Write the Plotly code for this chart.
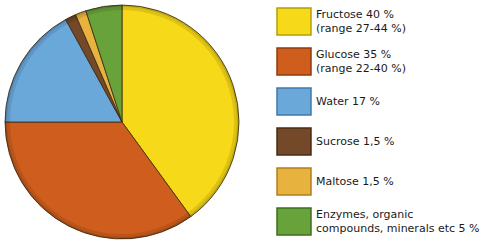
import plotly.graph_objects as go

W, H = 500, 243

labels = ["Fructose", "Glucose", "Water", "Sucrose", "Maltose", "Enzymes"]
values = [40, 35, 17, 1.5, 1.5, 5]
legend_texts = [
    "Fructose 40 %<br>(range 27-44 %)",
    "Glucose 35 %<br>(range 22-40 %)",
    "Water 17 %",
    "Sucrose 1,5 %",
    "Maltose 1,5 %",
    "Enzymes, organic<br>compounds, minerals etc 5 %",
]
colors = ["#F6D918", "#CF5E1E", "#6AA8DA", "#74492A", "#E8B23F", "#68A23A"]
edge_colors = ["#B59E08", "#8E3D0E", "#3F7AAA", "#4A2C14", "#B0801E", "#3F6F1E"]

cx, cy, r = 122, 122, 117

fig = go.Figure()
fig.add_trace(go.Pie(
    labels=labels, values=values, sort=False, direction="clockwise", rotation=0,
    marker=dict(colors=colors, line=dict(color="#3a2a10", width=0.8)),
    textinfo="none", hoverinfo="label+percent", showlegend=False,
    domain=dict(x=[(cx - r) / W, (cx + r) / W], y=[1 - (cy + r) / H, 1 - (cy - r) / H]),
))

shapes = []
# subtle rim shading on the pie
for rr, wdt, op in [(r - 2.5, 5, 0.10), (r - 1, 2, 0.12)]:
    shapes.append(dict(type="circle", xref="paper", yref="paper",
                       x0=(cx - rr) / W, x1=(cx + rr) / W,
                       y0=1 - (cy + rr) / H, y1=1 - (cy - rr) / H,
                       line=dict(color=f"rgba(0,0,0,{op})", width=wdt),
                       fillcolor="rgba(0,0,0,0)", layer="above"))
annotations = []
box_x0, box_x1 = 277, 311
for i, (txt, c, ec) in enumerate(zip(legend_texts, colors, edge_colors)):
    top = 8 + 40 * i
    bot = top + 27
    shapes.append(dict(type="rect", xref="paper", yref="paper",
                       x0=box_x0 / W, x1=box_x1 / W, y0=1 - bot / H, y1=1 - top / H,
                       fillcolor=c, line=dict(color=ec, width=1.5)))
    annotations.append(dict(text=txt, xref="paper", yref="paper",
                            x=314 / W, y=1 - (top + bot) / 2 / H,
                            xanchor="left", yanchor="middle", align="left",
                            showarrow=False,
                            font=dict(family="DejaVu Sans", size=11, color="#1a1a1a")))

fig.update_layout(width=W, height=H, margin=dict(l=0, r=0, t=0, b=0),
                  paper_bgcolor="white", plot_bgcolor="white",
                  shapes=shapes, annotations=annotations)
fig.write_html("out.html")
